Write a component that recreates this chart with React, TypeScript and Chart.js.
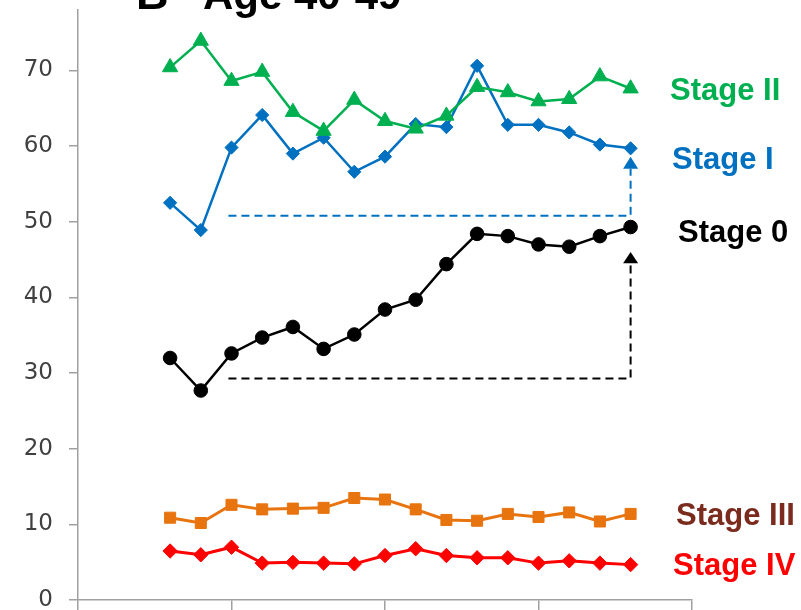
import React, { useEffect, useRef } from "react";
import { Chart, registerables } from "chart.js";

Chart.register(...registerables);

// ---- data ----
const xPositions = [3, 4, 5, 6, 7, 8, 9, 10, 11, 12, 13, 14, 15, 16, 17, 18];
const stage0 = [32.0, 27.7, 32.6, 34.7, 36.1, 33.2, 35.1, 38.4, 39.7, 44.4, 48.4, 48.1, 47.0, 46.7, 48.1, 49.3];
const stageI = [52.5, 48.9, 59.8, 64.1, 59.0, 61.1, 56.6, 58.6, 62.9, 62.5, 70.6, 62.8, 62.8, 61.8, 60.2, 59.7];
const stageII = [70.4, 73.9, 68.6, 69.8, 64.5, 62.0, 66.1, 63.3, 62.3, 64.0, 67.8, 67.1, 65.9, 66.2, 69.2, 67.6];
const stageIII = [10.9, 10.2, 12.6, 12.0, 12.1, 12.2, 13.5, 13.3, 12.0, 10.6, 10.5, 11.4, 11.0, 11.6, 10.4, 11.4];
const stageIV = [6.5, 6.0, 7.0, 4.9, 5.0, 4.9, 4.8, 5.9, 6.8, 5.9, 5.6, 5.6, 4.9, 5.2, 4.9, 4.7];

const yTicks = [0, 10, 20, 30, 40, 50, 60, 70];
const xTicks = [0, 5, 10, 15, 20];

// dashed guide lines (x, y) and arrow tips
const blueGuideX = [4.9, 18, 18];
const blueGuideY = [50.8, 50.8, 57.0];
const blueArrowTip = 58.6;
const blackGuideX = [4.9, 18, 18];
const blackGuideY = [29.3, 29.3, 44.5];
const blackArrowTip = 46.0;

const titleLetter = "B";
const titleText = "Age 40-49";
const seriesNames = ["Stage II", "Stage I", "Stage 0", "Stage III", "Stage IV"];

// ---- styles ----
const GREEN = "#00B050";
const BLUE = "#0070C0";
const BLACK = "#000000";
const ORANGE = "#E8740F";
const BROWN = "#7B2B1E";
const RED = "#FF0000";
const AXIS = "#A0A0A0";

const labelStyle = [
  { color: GREEN, x: 670, y: 100 },
  { color: BLUE, x: 672, y: 169 },
  { color: BLACK, x: 678, y: 242 },
  { color: BROWN, x: 676, y: 525 },
  { color: RED, x: 673, y: 575 },
];

const pts = (ys: number[]) => xPositions.map((x, i) => ({ x, y: ys[i] }));
const guide = (xs: number[], ys: number[]) => xs.map((x, i) => ({ x, y: ys[i] }));

const overlayPlugin = {
  id: "overlay",
  afterDraw(chart: any) {
    const ctx = chart.ctx;
    const xs = chart.scales.x;
    const ys = chart.scales.y;
    ctx.save();
    // arrow heads
    const drawArrow = (xv: number, baseV: number, tipV: number, color: string) => {
      const px = xs.getPixelForValue(xv);
      const tip = ys.getPixelForValue(tipV);
      const base = ys.getPixelForValue(baseV);
      ctx.fillStyle = color;
      ctx.beginPath();
      ctx.moveTo(px, tip);
      ctx.lineTo(px - 7.5, base);
      ctx.lineTo(px + 7.5, base);
      ctx.closePath();
      ctx.fill();
    };
    drawArrow(blueGuideX[2], blueGuideY[2], blueArrowTip, BLUE);
    drawArrow(blackGuideX[2], blackGuideY[2], blackArrowTip, BLACK);

    // series labels
    ctx.textAlign = "left";
    ctx.textBaseline = "alphabetic";
    ctx.font = "bold 31px 'Liberation Sans', Arial, sans-serif";
    seriesNames.forEach((name, i) => {
      const s = labelStyle[i];
      ctx.fillStyle = s.color;
      ctx.fillText(name, s.x, s.y);
    });

    // title (cut off at top)
    ctx.fillStyle = "#000";
    ctx.font = "bold 45px 'Liberation Sans', Arial, sans-serif";
    ctx.fillText(titleLetter, 136, 9);
    ctx.font = "bold 42px 'Liberation Sans', Arial, sans-serif";
    ctx.fillText(titleText, 203, 9);
    ctx.restore();
  },
};

export default function App() {
  const ref = useRef<HTMLCanvasElement>(null);

  useEffect(() => {
    document.body.style.margin = "0";
    const canvas = ref.current;
    if (!canvas) return;
    const lineDs = (label: string, ys: number[], color: string, style: string, radius: number, width: number) => ({
      label,
      data: pts(ys),
      borderColor: color,
      backgroundColor: color,
      borderWidth: width,
      pointStyle: style,
      pointRadius: radius,
      pointBorderWidth: 1,
      pointBorderColor: color,
      pointBackgroundColor: color,
      tension: 0,
    });
    const guideDs = (xsArr: number[], ysArr: number[], color: string) => ({
      label: "guide",
      data: guide(xsArr, ysArr),
      borderColor: color,
      borderWidth: 2,
      borderDash: [8, 5],
      pointRadius: 0,
      tension: 0,
    });
    const chart = new Chart(canvas, {
      type: "line",
      data: {
        datasets: [
          guideDs(blueGuideX, blueGuideY, BLUE),
          guideDs(blackGuideX, blackGuideY, BLACK),
          lineDs(seriesNames[3], stageIII, ORANGE, "rect", 7.8, 3),
          lineDs(seriesNames[4], stageIV, RED, "rectRot", 7.2, 3),
          lineDs(seriesNames[2], stage0, BLACK, "circle", 6.8, 2.5),
          lineDs(seriesNames[0], stageII, GREEN, "triangle", 8.8, 2.5),
          lineDs(seriesNames[1], stageI, BLUE, "rectRot", 6.6, 2.5),
        ] as any,
      },
      options: {
        responsive: false,
        animation: false,
        layout: { padding: { top: 8, right: 109, left: 0, bottom: 0 } },
        plugins: { legend: { display: false }, tooltip: { enabled: false }, title: { display: false } },
        scales: {
          x: {
            type: "linear",
            min: 0,
            max: 20,
            afterBuildTicks: (s: any) => {
              s.ticks = xTicks.map((v) => ({ value: v }));
            },
            afterFit: (s: any) => {
              s.height = 8;
              s.paddingLeft = 0;
              s.paddingRight = 0;
            },
            ticks: { display: false },
            grid: { drawOnChartArea: false, drawTicks: true, tickLength: 10, color: AXIS, lineWidth: 1.5 },
            border: { display: true, color: AXIS, width: 1.5 },
          },
          y: {
            type: "linear",
            min: 0,
            max: 78,
            afterBuildTicks: (s: any) => {
              s.ticks = yTicks.map((v) => ({ value: v }));
            },
            afterFit: (s: any) => {
              s.width = 78;
              s.paddingTop = 0;
              s.paddingBottom = 0;
            },
            ticks: {
              color: "#404040",
              padding: 16,
              font: { family: "'DejaVu Sans', sans-serif", size: 23 },
            },
            grid: { drawOnChartArea: false, drawTicks: true, tickLength: 9, color: AXIS, lineWidth: 1.5 },
            border: { display: true, color: AXIS, width: 1.5 },
          },
        },
      },
      plugins: [overlayPlugin],
    });
    return () => chart.destroy();
  }, []);

  return (
    <div style={{ position: "absolute", left: 0, top: 0, width: 801, height: 610, background: "#fff" }}>
      <canvas ref={ref} width={801} height={610} style={{ display: "block" }} />
    </div>
  );
}
